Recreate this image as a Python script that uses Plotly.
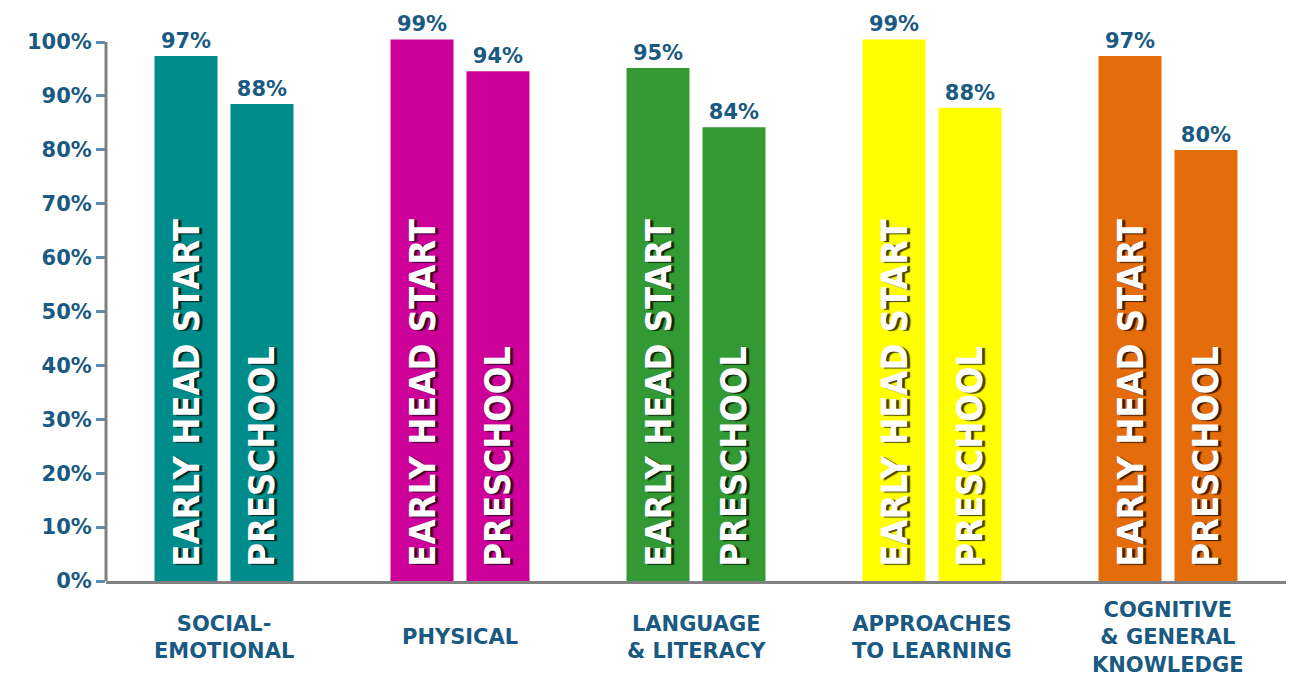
import plotly.graph_objects as go

categories = ["SOCIAL-<br>EMOTIONAL", "PHYSICAL", "LANGUAGE<br>& LITERACY",
              "APPROACHES<br>TO LEARNING", "COGNITIVE<br>& GENERAL<br>KNOWLEDGE"]
cat_keys = ["Social-Emotional", "Physical", "Language & Literacy",
            "Approaches to Learning", "Cognitive & General Knowledge"]
ehs_values = [97.4, 100.5, 95.2, 100.5, 97.4]
ehs_labels = ["97%", "99%", "95%", "99%", "97%"]
pre_values = [88.5, 94.6, 84.2, 87.8, 80.0]
pre_labels = ["88%", "94%", "84%", "88%", "80%"]
series_names = ["EARLY HEAD START", "PRESCHOOL"]
colors = ["#008C8A", "#CC0099", "#339933", "#FFFF00", "#E46C0A"]
y_ticks = [0, 10, 20, 30, 40, 50, 60, 70, 80, 90, 100]
y_tick_text = ["0%", "10%", "20%", "30%", "40%", "50%", "60%", "70%", "80%", "90%", "100%"]

NAVY = "#1A5A82"
LABEL_FONT = dict(family="'DejaVu Sans', sans-serif", size=21, color=NAVY, weight="bold")
INNER_FONT = dict(family="'Liberation Sans Narrow', 'DejaVu Sans Condensed', 'Arial Narrow', sans-serif",
                  size=36, color="white", weight="bold",
                  shadow="-1px 3px 1px rgba(0,0,0,0.75)")

fig = go.Figure()
for name, vals, labs, grp in [(series_names[0], ehs_values, ehs_labels, "a"),
                              (series_names[1], pre_values, pre_labels, "b")]:
    # visible bars with value labels on top
    fig.add_trace(go.Bar(x=cat_keys, y=vals, marker_color=colors, marker_line_width=0,
                         text=labs, textposition="outside", textfont=LABEL_FONT,
                         cliponaxis=False, offsetgroup=grp, showlegend=False, name=name))
    # transparent overlay carrying the rotated series name
    fig.add_trace(go.Bar(x=cat_keys, y=vals, marker_color="rgba(0,0,0,0)", marker_line_width=0,
                         text=["\u00a0" + name] * len(vals), textposition="inside",
                         insidetextanchor="start", textangle=-90, insidetextfont=INNER_FONT,
                         constraintext="none",
                         offsetgroup=grp, showlegend=False, hoverinfo="skip"))

for key, lab in zip(cat_keys, categories):
    fig.add_annotation(x=key, xref="x", y=-0.1, yref="paper", text=lab, showarrow=False,
                       yanchor="middle", xanchor="center", align="center",
                       font=dict(family="'DejaVu Sans', sans-serif", size=21, color=NAVY, weight="bold"))

# y axis line only up to 100%
fig.add_shape(type="line", xref="paper", x0=0, x1=0, yref="y", y0=0, y1=100,
              line=dict(color="#808080", width=3))

fig.update_layout(
    width=1297, height=692,
    margin=dict(l=98, r=19, t=12, b=119),
    paper_bgcolor="white", plot_bgcolor="white",
    barmode="group", bargap=0.356, bargroupgap=0.171,
    xaxis=dict(showticklabels=False, ticks="", showline=True, linecolor="#808080", linewidth=3,
               showgrid=False, zeroline=False, range=[-0.5, 4.5]),
    yaxis=dict(range=[0, 104.1], tickvals=y_ticks, ticktext=y_tick_text, ticks="outside", ticklen=9,
               tickwidth=3, tickcolor="#5A8BB0", showline=False, showgrid=False, zeroline=False,
               tickfont=LABEL_FONT),
)

fig.write_html("out.html")
